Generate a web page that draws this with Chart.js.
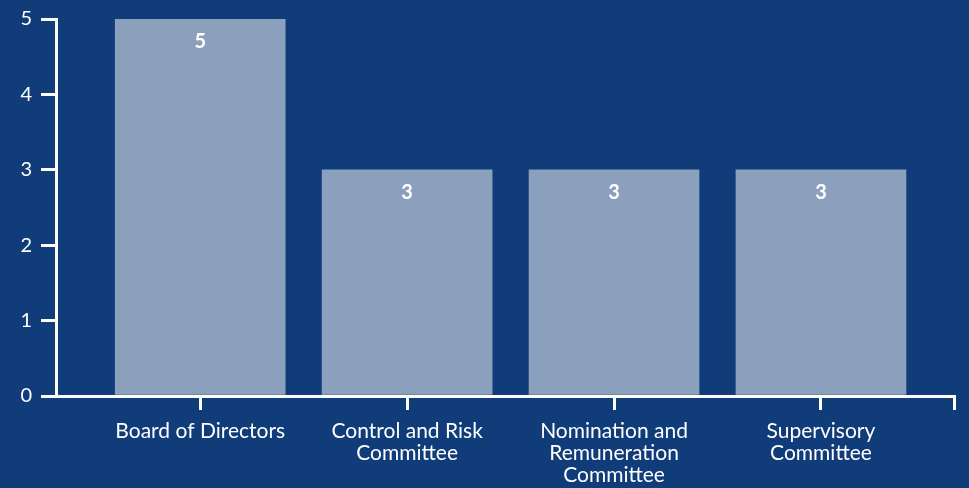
<!DOCTYPE html>
<html>
<head>
<meta charset="utf-8">
<script src="https://cdn.jsdelivr.net/npm/chart.js@4/dist/chart.umd.min.js"></script>
<style>
  html, body { margin: 0; padding: 0; background: #103c79; }
  #wrap { width: 969px; height: 488px; }
</style>
</head>
<body>
<div id="wrap"><canvas id="myChart"></canvas></div>
<script>
const categories = [
  ['Board of Directors'],
  ['Control and Risk', 'Committee'],
  ['Nomination and', 'Remuneration', 'Committee'],
  ['Supervisory', 'Committee'],
];
const members = [5, 3, 3, 3];
const yMax = 5;

const X_MIN = -0.697;
const X_MAX = 3.643;

// numbers written inside the top of each bar
const barValues = {
  id: 'barValues',
  afterDatasetsDraw(chart) {
    const ctx = chart.ctx;
    ctx.save();
    ctx.fillStyle = '#ffffff';
    ctx.font = 'bold 20px Lato, sans-serif';
    ctx.textAlign = 'center';
    ctx.textBaseline = 'middle';
    chart.getDatasetMeta(0).data.forEach((bar, i) => {
      ctx.fillText(String(members[i]), bar.x, bar.y + 23);
    });
    ctx.restore();
  },
};

const data = {
  datasets: [
    {
      data: members.map((v, i) => ({ x: i, y: v })),
      backgroundColor: '#8aa0bd',
      borderWidth: 0,
      barThickness: 170,
    },
  ],
};

const config = {
  type: 'bar',
  data,
  options: {
    responsive: true,
    maintainAspectRatio: false,
    animation: false,
    layout: { padding: { top: 0, right: 15, left: 0, bottom: 0 } },
    plugins: {
      legend: { display: false },
      tooltip: { enabled: false },
    },
    scales: {
      x: {
        type: 'linear',
        min: X_MIN,
        max: X_MAX,
        offset: false,
        afterBuildTicks(scale) {
          scale.ticks = categories.map((c, i) => ({ value: i })).concat([{ value: X_MAX }]);
        },
        afterFit(scale) { scale.height = 92; },
        grid: {
          offset: false,
          drawOnChartArea: false,
          color: '#ffffff',
          lineWidth: 3,
          tickLength: 14,
        },
        border: { display: true, color: '#ffffff', width: 3 },
        ticks: {
          autoSkip: false,
          maxRotation: 0,
          color: '#ffffff',
          padding: 10,
          font: { size: 21, family: "Lato, sans-serif", lineHeight: 1.05 },
          callback: (v) => (Number.isInteger(v) && categories[v]) ? categories[v] : '',
        },
      },
      y: {
        min: 0,
        max: yMax,
        afterFit(scale) { scale.width = 56; },
        ticks: {
          stepSize: 1,
          color: '#ffffff',
          padding: 9,
          font: { size: 20, family: "Lato, sans-serif", lineHeight: 1.0 },
        },
        grid: {
          drawOnChartArea: false,
          color: '#ffffff',
          lineWidth: 3,
          tickLength: 15,
        },
        border: { display: true, color: '#ffffff', width: 3 },
      },
    },
  },
  plugins: [barValues],
};

var myChart = new Chart(document.getElementById('myChart'), config);
</script>
</body>
</html>
